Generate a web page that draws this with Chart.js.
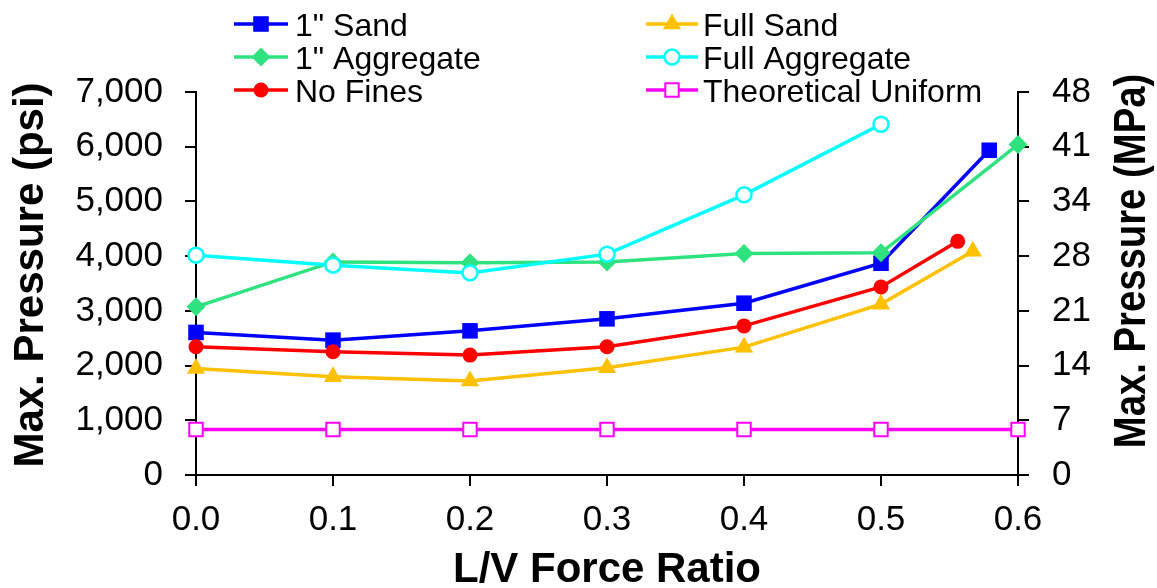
<!DOCTYPE html>
<html>
<head>
<meta charset="utf-8">
<script src="https://cdn.jsdelivr.net/npm/chart.js@4/dist/chart.umd.min.js"></script>
<style>
  html, body { margin: 0; padding: 0; background: #fff; }
  #wrap { width: 1157px; height: 588px; }
</style>
</head>
<body>
<div id="wrap"><canvas id="c" width="1157" height="588"></canvas></div>
<script>
// ---- data ----
const seriesNames = ['1" Sand', 'Full Sand', '1" Aggregate', 'Full Aggregate', 'No Fines', 'Theoretical Uniform'];

const sand1X = [0, 0.1, 0.2, 0.3, 0.4, 0.5, 0.579];
const sand1Y = [2606, 2465, 2635, 2854, 3140, 3870, 5935];

const fullSandX = [0, 0.1, 0.2, 0.3, 0.4, 0.5, 0.567];
const fullSandY = [1948, 1795, 1717, 1960, 2337, 3123, 4090];

const agg1X = [0, 0.1, 0.2, 0.3, 0.4, 0.5, 0.6];
const agg1Y = [3074, 3895, 3877, 3895, 4050, 4060, 6039];

const fullAggX = [0, 0.1, 0.2, 0.3, 0.4, 0.5];
const fullAggY = [4018, 3835, 3694, 4036, 5120, 6410];

const noFinesX = [0, 0.1, 0.2, 0.3, 0.4, 0.5, 0.556];
const noFinesY = [2343, 2252, 2191, 2343, 2725, 3436, 4270];

const uniformX = [0, 0.1, 0.2, 0.3, 0.4, 0.5, 0.6];
const uniformY = [830, 830, 830, 830, 830, 830, 830];

const xTickMin = 0, xTickMax = 0.6, xTickStep = 0.1;
const yTickMin = 0, yTickMax = 7000, yTickStep = 1000;
const PSI_TO_MPA = 0.0068948;

const xTitle = 'L/V Force Ratio';
const yTitle = 'Max. Pressure (psi)';
const y2Title = 'Max. Pressure (MPa)';

// ---- build ----
function pts(xs, ys) { return xs.map((x, i) => ({ x: x, y: ys[i] })); }

const FONT = '"Liberation Sans", Arial, Helvetica, sans-serif';

const styles = [
  { color: '#0000FF', pointStyle: 'rect',     radius: 11,   fill: '#0000FF', bw: 0 },
  { color: '#FFC000', pointStyle: 'triangle', radius: 10.5, fill: '#FFC000', bw: 0 },
  { color: '#2EE27F', pointStyle: 'rectRot',  radius: 9.5,  fill: '#2EE27F', bw: 0 },
  { color: '#00FFFF', pointStyle: 'circle',   radius: 7.5,  fill: '#FFFFFF', bw: 2.5 },
  { color: '#FF0000', pointStyle: 'circle',   radius: 7.5,  fill: '#FF0000', bw: 0 },
  { color: '#FF00FF', pointStyle: 'rect',     radius: 9.5,  fill: '#FFFFFF', bw: 2 }
];
const dataSets = [
  pts(sand1X, sand1Y), pts(fullSandX, fullSandY), pts(agg1X, agg1Y),
  pts(fullAggX, fullAggY), pts(noFinesX, noFinesY), pts(uniformX, uniformY)
];

const datasets = dataSets.map((d, i) => ({
  label: seriesNames[i],
  data: d,
  borderColor: styles[i].color,
  backgroundColor: styles[i].fill,
  borderWidth: 3.5,
  pointStyle: styles[i].pointStyle,
  pointRadius: styles[i].radius,
  pointHoverRadius: styles[i].radius,
  pointBackgroundColor: styles[i].fill,
  pointBorderColor: styles[i].color,
  pointBorderWidth: styles[i].bw,
  tension: 0,
  fill: false,
  clip: false,
  order: dataSets.length - i
}));

// legend drawn in two columns, like the reference
const legendPlugin = {
  id: 'twoColLegend',
  afterDraw(chart) {
    const ctx = chart.ctx;
    const colLine = [[234, 288], [646, 698]];
    const colText = [295, 703];
    const rowY = [24, 57, 90];
    chart.data.datasets.forEach((ds, i) => {
      const col = i % 2, row = Math.floor(i / 2);
      const y = rowY[row];
      const [x0, x1] = colLine[col];
      ctx.save();
      ctx.strokeStyle = ds.borderColor;
      ctx.lineWidth = 3.5;
      ctx.beginPath(); ctx.moveTo(x0, y); ctx.lineTo(x1, y); ctx.stroke();
      ctx.fillStyle = ds.pointBackgroundColor;
      ctx.strokeStyle = ds.pointBorderColor;
      ctx.lineWidth = ds.pointBorderWidth;
      Chart.helpers.drawPoint(ctx, {
        pointStyle: ds.pointStyle, rotation: 0,
        radius: ds.pointRadius, borderWidth: ds.pointBorderWidth
      }, (x0 + x1) / 2, y);
      ctx.fillStyle = '#000';
      ctx.font = '32px ' + FONT;
      ctx.textAlign = 'left';
      ctx.textBaseline = 'alphabetic';
      ctx.fillText(ds.label, colText[col], y + 11.5);
      ctx.restore();
    });
  }
};

const titlesPlugin = {
  id: 'axisTitles',
  afterDraw(chart) {
    const ctx = chart.ctx;
    const a = chart.chartArea;
    ctx.save();
    ctx.fillStyle = '#000';
    ctx.font = 'bold 42px ' + FONT;
    ctx.textAlign = 'center';
    ctx.textBaseline = 'alphabetic';
    ctx.fillText(xTitle, (a.left + a.right) / 2, 582);
    ctx.restore();

    ctx.save();
    ctx.fillStyle = '#000';
    ctx.font = 'bold 42px ' + FONT;
    ctx.textAlign = 'center';
    ctx.textBaseline = 'alphabetic';
    ctx.translate(43, 275);
    ctx.rotate(-Math.PI / 2);
    ctx.fillText(yTitle, 0, 0);
    ctx.restore();

    ctx.save();
    ctx.fillStyle = '#000';
    ctx.font = 'bold 44px ' + FONT;
    ctx.textAlign = 'center';
    ctx.textBaseline = 'alphabetic';
    ctx.translate(1145, 261);
    ctx.rotate(-Math.PI / 2);
    ctx.scale(0.87, 1);
    ctx.fillText(y2Title, 0, 0);
    ctx.restore();
  }
};

Chart.defaults.color = '#000';
Chart.defaults.font.family = FONT;

const axisGrid = { drawOnChartArea: false, drawTicks: true, tickLength: 11, color: '#000', lineWidth: 2 };
const axisBorder = { display: true, color: '#000', width: 2 };

new Chart(document.getElementById('c'), {
  type: 'line',
  data: { datasets: datasets },
  options: {
    responsive: false,
    animation: false,
    devicePixelRatio: 1,
    layout: { padding: { top: 92, left: 0, right: 0, bottom: 0 } },
    plugins: { legend: { display: false }, tooltip: { enabled: false }, title: { display: false } },
    scales: {
      x: {
        type: 'linear', position: 'bottom',
        min: xTickMin, max: xTickMax,
        ticks: { stepSize: xTickStep, font: { size: 35 }, padding: 13, color: '#000',
                 callback: v => Number(v).toFixed(1), maxRotation: 0 },
        grid: axisGrid, border: axisBorder,
        afterFit: s => { s.height = 113; }
      },
      y: {
        type: 'linear', position: 'left',
        min: yTickMin, max: yTickMax,
        ticks: { stepSize: yTickStep, font: { size: 35 }, padding: 22, color: '#000',
                 callback: v => Number(v).toLocaleString('en-US') },
        grid: axisGrid, border: axisBorder,
        afterFit: s => { s.width = 196; }
      },
      y2: {
        type: 'linear', position: 'right',
        min: yTickMin, max: yTickMax,
        ticks: { stepSize: yTickStep, font: { size: 35 }, padding: 23, color: '#000',
                 callback: v => String(Math.round(v * PSI_TO_MPA)) },
        grid: axisGrid, border: axisBorder,
        afterFit: s => { s.width = 139; }
      }
    }
  },
  plugins: [legendPlugin, titlesPlugin]
});
</script>
</body>
</html>
